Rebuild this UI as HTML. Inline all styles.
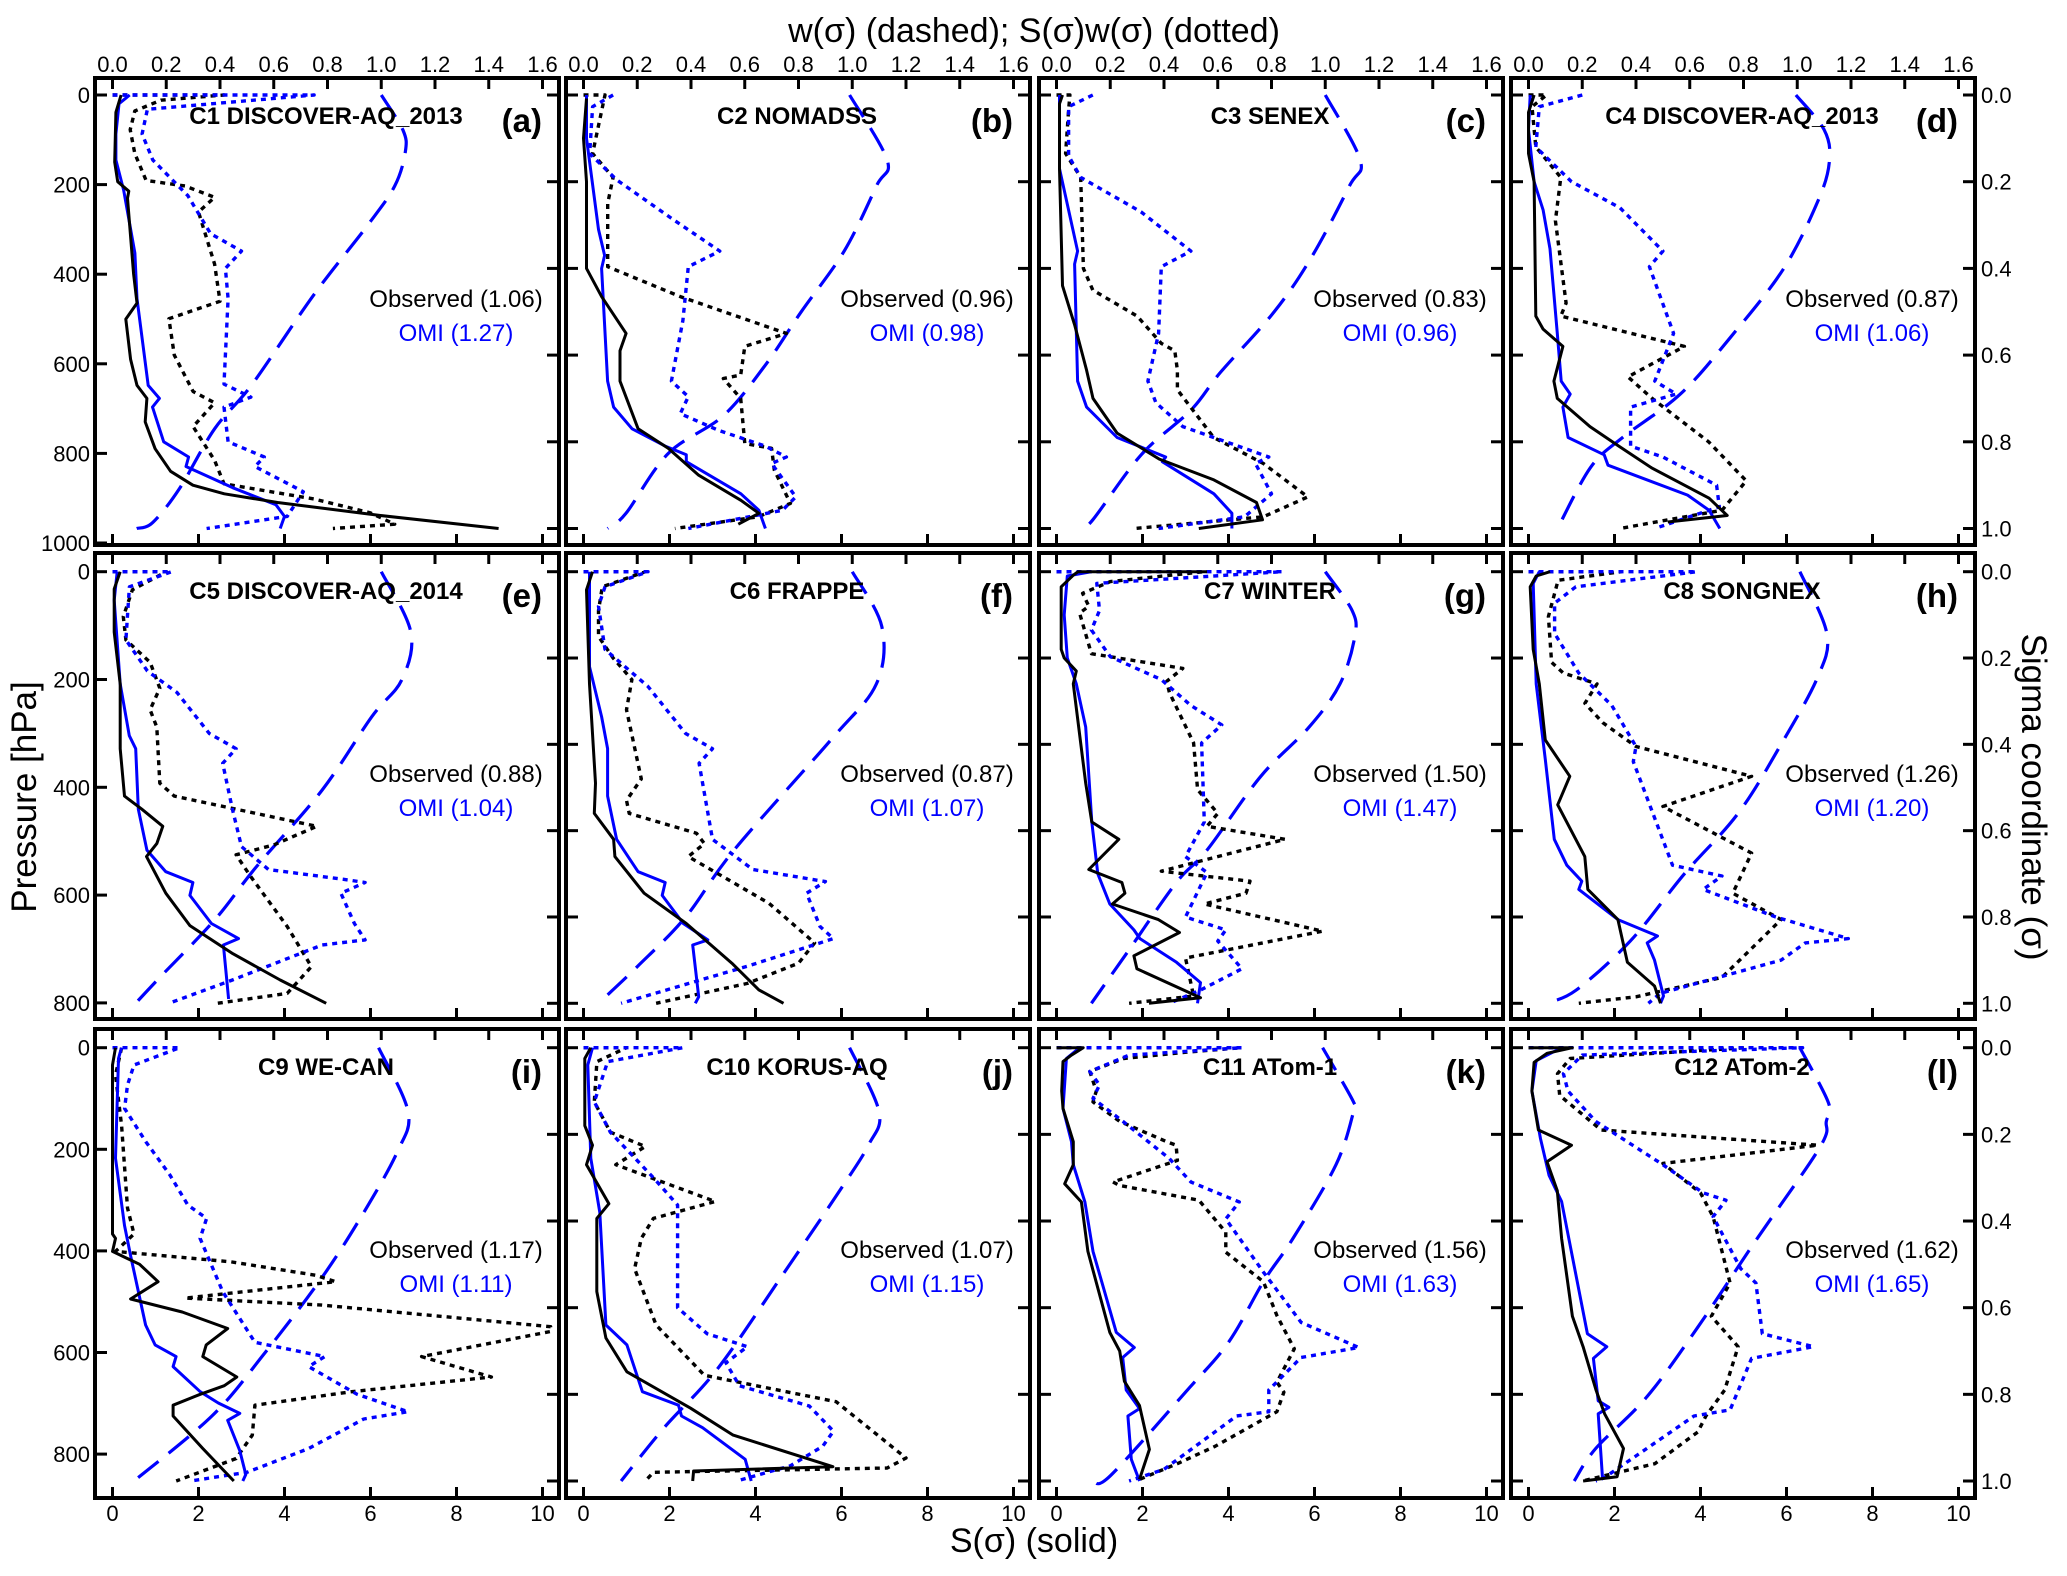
<!DOCTYPE html>
<html><head><meta charset="utf-8"><title>S(σ) and w(σ) profiles</title>
<style>
html,body{margin:0;padding:0;background:#fff;}
svg{display:block;font-family:"Liberation Sans",Arial,sans-serif;}
</style></head>
<body>
<svg id="chart" width="2067" height="1576" viewBox="0 0 2067 1576" xmlns="http://www.w3.org/2000/svg">
<rect x="0" y="0" width="2067" height="1576" fill="#fff"/>
<text x="1034" y="42" text-anchor="middle" font-size="34">w(σ) (dashed); S(σ)w(σ) (dotted)</text>
<text x="1034" y="1552" text-anchor="middle" font-size="34">S(σ) (solid)</text>
<text transform="translate(36,797) rotate(-90)" text-anchor="middle" font-size="35">Pressure [hPa]</text>
<text transform="translate(2022,797) rotate(90)" text-anchor="middle" font-size="35">Sigma coordinate (σ)</text>
<g id="plots"></g>
</svg>
<script>
// ---- data: [sigma, value]; S in bottom-axis units, w / Sw in top-axis units ----
const panelKeys = ['a','b','c','d','e','f','g','h','i','j','k','l'];
const panelTitles = ['C1 DISCOVER-AQ_2013','C2 NOMADSS','C3 SENEX','C4 DISCOVER-AQ_2013','C5 DISCOVER-AQ_2014','C6 FRAPPE','C7 WINTER','C8 SONGNEX','C9 WE-CAN','C10 KORUS-AQ','C11 ATom-1','C12 ATom-2'];
const obsAmf = ['1.06','0.96','0.83','0.87','0.88','0.87','1.50','1.26','1.17','1.07','1.56','1.62'];
const omiAmf = ['1.27','0.98','0.96','1.06','1.04','1.07','1.47','1.20','1.11','1.15','1.63','1.65'];
const wTicks = [0.0,0.2,0.4,0.6,0.8,1.0,1.2,1.4,1.6];
const sTicks = [0,2,4,6,8,10];
const sigmaTicks = [0.0,0.2,0.4,0.6,0.8,1.0];
const pTicksRow1 = [0,200,400,600,800,1000];
const pTicksRow23 = [0,200,400,600,800];

const obsS_a = [[0,0.2],[0.04,0.08],[0.155,0.05],[0.2,0.12],[0.222,0.38],[0.238,0.35],[0.413,0.49],[0.48,0.57],[0.517,0.31],[0.61,0.42],[0.67,0.57],[0.70,0.8],[0.754,0.76],[0.816,0.99],[0.868,1.35],[0.9,1.87],[0.92,2.6],[0.94,3.84],[0.97,6.23],[1.0,8.98]];
const omiS_a = [[0,0.4],[0.02,0.15],[0.09,0.08],[0.15,0.08],[0.22,0.26],[0.365,0.52],[0.47,0.57],[0.67,0.83],[0.70,1.09],[0.72,0.93],[0.80,1.19],[0.835,1.77],[0.857,1.71],[0.906,2.8],[0.945,3.8],[0.972,4.0],[1.0,3.9]];
const obsW_a = [[0,0],[0,0.415],[0.012,0.18],[0.037,0.083],[0.08,0.066],[0.135,0.083],[0.197,0.125],[0.21,0.27],[0.236,0.38],[0.27,0.32],[0.39,0.38],[0.476,0.40],[0.516,0.21],[0.60,0.23],[0.684,0.30],[0.71,0.38],[0.765,0.30],[0.843,0.38],[0.897,0.415],[0.932,0.75],[0.964,0.96],[0.99,1.05],[1.0,0.82]];
const omiW_a = [[0,0],[0,0.75],[0.033,0.13],[0.09,0.11],[0.15,0.15],[0.232,0.28],[0.32,0.365],[0.36,0.48],[0.40,0.42],[0.47,0.43],[0.667,0.415],[0.697,0.515],[0.72,0.415],[0.80,0.43],[0.835,0.565],[0.857,0.53],[0.915,0.71],[0.972,0.65],[1.0,0.35]];
const wfun_a = [[0,1.0],[0.08,1.08],[0.13,1.09],[0.21,1.05],[0.30,0.95],[0.46,0.75],[0.667,0.52],[0.77,0.38],[0.907,0.25],[0.986,0.15],[1.0,0.09]];

const obsS_b = [[0.008,0.07],[0.1,0],[0.2,0.07],[0.4,0.07],[0.465,0.42],[0.55,0.99],[0.59,0.85],[0.66,0.85],[0.77,1.27],[0.815,1.97],[0.877,2.68],[0.935,3.66],[0.965,4.08],[0.99,3.6]];
const omiS_b = [[0,0.07],[0.1,0.07],[0.31,0.35],[0.37,0.49],[0.4,0.42],[0.66,0.56],[0.72,0.7],[0.77,1.13],[0.81,1.9],[0.83,2.39],[0.846,2.39],[0.92,3.66],[0.958,4.08],[1.0,4.23]];
const obsW_b = [[0,0],[0,0.08],[0.135,0.034],[0.19,0.11],[0.25,0.09],[0.396,0.09],[0.465,0.36],[0.55,0.755],[0.58,0.6],[0.646,0.585],[0.654,0.52],[0.7,0.585],[0.804,0.6],[0.815,0.7],[0.865,0.71],[0.942,0.77],[0.973,0.65],[1.0,0.34]];
const omiW_b = [[0,0.11],[0.027,0.034],[0.135,0.023],[0.196,0.124],[0.29,0.34],[0.36,0.507],[0.396,0.39],[0.52,0.37],[0.66,0.327],[0.696,0.39],[0.735,0.36],[0.773,0.5],[0.81,0.676],[0.835,0.755],[0.85,0.7],[0.927,0.79],[0.958,0.74],[1.0,0.39]];
const wfun_b = [[0,0.99],[0.15,1.13],[0.21,1.09],[0.36,0.97],[0.5,0.81],[0.62,0.68],[0.74,0.52],[0.827,0.315],[0.965,0.158],[1.0,0.09]];

const obsS_c = [[0,0.14],[0.02,0.07],[0.17,0.07],[0.44,0.14],[0.53,0.42],[0.635,0.7],[0.70,0.85],[0.78,1.41],[0.84,2.39],[0.888,3.66],[0.94,4.65],[0.98,4.79],[1.0,3.31]];
const omiS_c = [[0,0.07],[0.17,0.07],[0.36,0.49],[0.39,0.42],[0.66,0.49],[0.72,0.7],[0.79,1.41],[0.835,2.54],[0.846,2.46],[0.92,3.66],[0.965,4.08],[1.0,4.08]];
const obsW_c = [[0,0],[0,0.05],[0.035,0.045],[0.135,0.034],[0.19,0.09],[0.4,0.1],[0.45,0.135],[0.51,0.30],[0.573,0.39],[0.59,0.44],[0.635,0.45],[0.68,0.45],[0.79,0.585],[0.85,0.77],[0.927,0.935],[0.973,0.77],[1.0,0.29]];
const omiW_c = [[0,0.135],[0.027,0.045],[0.14,0.045],[0.19,0.09],[0.27,0.315],[0.36,0.5],[0.396,0.39],[0.55,0.38],[0.66,0.34],[0.71,0.37],[0.765,0.47],[0.81,0.676],[0.835,0.79],[0.85,0.74],[0.92,0.8],[0.973,0.7],[1.0,0.38]];
const wfun_c = [[0,1.0],[0.15,1.13],[0.21,1.09],[0.373,0.95],[0.5,0.81],[0.64,0.61],[0.727,0.5],[0.83,0.315],[0.98,0.135],[1.0,0.09]];

const obsS_d = [[0,0.13],[0.04,0],[0.135,0],[0.2,0.13],[0.51,0.17],[0.54,0.34],[0.58,0.8],[0.66,0.59],[0.7,0.67],[0.765,1.43],[0.81,2.1],[0.86,2.86],[0.93,4.2],[0.97,4.62],[0.985,3.24]];
const omiS_d = [[0,0.04],[0.08,0],[0.2,0.13],[0.265,0.34],[0.355,0.5],[0.55,0.67],[0.66,0.76],[0.69,0.97],[0.72,0.8],[0.79,0.92],[0.83,1.76],[0.854,1.85],[0.923,3.7],[0.958,4.2],[1.0,4.45]];
const obsW_d = [[0,0],[0,0.067],[0.027,0.013],[0.12,0.027],[0.19,0.12],[0.29,0.10],[0.48,0.14],[0.51,0.12],[0.58,0.58],[0.65,0.37],[0.70,0.46],[0.80,0.67],[0.89,0.81],[0.958,0.72],[0.98,0.52],[1.0,0.34]];
const omiW_d = [[0,0.2],[0.027,0.04],[0.12,0.027],[0.2,0.16],[0.26,0.34],[0.36,0.5],[0.396,0.45],[0.55,0.54],[0.66,0.47],[0.69,0.55],[0.72,0.38],[0.81,0.38],[0.835,0.5],[0.90,0.7],[0.95,0.71],[1.0,0.47]];
const wfun_d = [[0,0.995],[0.08,1.1],[0.15,1.12],[0.24,1.08],[0.40,0.95],[0.56,0.75],[0.69,0.565],[0.79,0.35],[0.86,0.23],[1.0,0.108]];

const obsS_e = [[0,0.18],[0.04,0.04],[0.14,0.04],[0.26,0.18],[0.41,0.18],[0.52,0.28],[0.55,0.68],[0.59,1.17],[0.63,1.03],[0.66,0.79],[0.745,1.24],[0.82,1.8],[0.885,2.8],[0.946,3.9],[1.0,4.97]];
const omiS_e = [[0,0.11],[0.066,0.04],[0.26,0.18],[0.38,0.39],[0.41,0.54],[0.55,0.6],[0.645,0.8],[0.695,1.24],[0.72,1.87],[0.75,1.8],[0.815,2.3],[0.85,2.93],[0.865,2.58],[0.99,2.7]];
const obsW_e = [[0,0],[0,0.2],[0.042,0.074],[0.104,0.04],[0.158,0.05],[0.21,0.14],[0.27,0.176],[0.32,0.14],[0.36,0.165],[0.49,0.176],[0.52,0.23],[0.59,0.76],[0.633,0.6],[0.656,0.46],[0.707,0.515],[0.822,0.65],[0.915,0.74],[0.977,0.65],[1.0,0.39]];
const omiW_e = [[0,0],[0,0.22],[0.035,0.063],[0.158,0.05],[0.23,0.13],[0.28,0.24],[0.375,0.36],[0.41,0.46],[0.444,0.41],[0.55,0.446],[0.637,0.48],[0.69,0.58],[0.714,0.875],[0.72,0.94],[0.745,0.85],[0.815,0.9],[0.853,0.94],[0.865,0.78],[0.946,0.446],[1.0,0.21]];
const wfun_e = [[0,1.0],[0.14,1.11],[0.25,1.077],[0.336,0.965],[0.506,0.78],[0.683,0.536],[0.807,0.38],[0.94,0.176],[1.0,0.086]];

const obsS_f = [[0,0.21],[0.042,0.07],[0.26,0.14],[0.49,0.28],[0.56,0.25],[0.62,0.7],[0.66,0.73],[0.745,1.41],[0.815,2.39],[0.907,3.45],[0.969,4.08],[1.0,4.65]];
const omiS_f = [[0,0.14],[0.22,0.14],[0.336,0.42],[0.41,0.56],[0.52,0.56],[0.62,0.77],[0.695,1.27],[0.72,1.9],[0.75,1.83],[0.815,2.32],[0.853,2.89],[0.865,2.54],[0.985,2.68],[1.0,2.6]];
const obsW_f = [[0,0],[0,0.23],[0.035,0.07],[0.09,0.056],[0.15,0.056],[0.2,0.11],[0.25,0.18],[0.32,0.16],[0.48,0.215],[0.53,0.16],[0.56,0.17],[0.606,0.42],[0.63,0.45],[0.66,0.39],[0.714,0.54],[0.768,0.69],[0.86,0.86],[0.907,0.8],[0.954,0.61],[1.0,0.27]];
const omiW_f = [[0,0],[0,0.24],[0.035,0.08],[0.08,0.056],[0.18,0.08],[0.266,0.24],[0.375,0.38],[0.41,0.48],[0.444,0.43],[0.62,0.48],[0.69,0.63],[0.718,0.9],[0.745,0.83],[0.822,0.88],[0.85,0.93],[0.914,0.61],[1.0,0.14]];
const wfun_f = [[0,1.0],[0.127,1.11],[0.26,1.09],[0.39,0.92],[0.645,0.56],[0.8,0.38],[0.915,0.2],[1.0,0.056]];

const obsS_g = [[0,3.5],[0,0.5],[0.008,0.39],[0.035,0.11],[0.18,0.11],[0.2,0.18],[0.23,0.46],[0.26,0.39],[0.49,0.68],[0.58,0.82],[0.62,1.45],[0.69,0.75],[0.72,1.52],[0.745,1.59],[0.77,1.3],[0.806,2.37],[0.836,2.86],[0.89,1.8],[0.92,1.87],[0.987,3.35],[1.0,2.15]];
const omiS_g = [[0,0.82],[0.01,0.25],[0.1,0.18],[0.2,0.25],[0.26,0.46],[0.36,0.68],[0.58,0.82],[0.7,0.96],[0.77,1.24],[0.83,1.8],[0.85,1.94],[0.905,2.79],[0.952,3.35],[1.0,3.28]];
const obsW_g = [[0,0],[0,0.55],[0.023,0.2],[0.05,0.097],[0.08,0.12],[0.096,0.086],[0.19,0.13],[0.224,0.47],[0.254,0.41],[0.28,0.42],[0.397,0.51],[0.505,0.525],[0.56,0.6],[0.59,0.56],[0.62,0.85],[0.694,0.39],[0.717,0.72],[0.745,0.705],[0.77,0.55],[0.833,0.99],[0.895,0.48],[0.983,0.51],[1.0,0.27]];
const omiW_g = [[0,0],[0,0.84],[0.027,0.15],[0.09,0.16],[0.135,0.13],[0.197,0.2],[0.25,0.39],[0.31,0.5],[0.355,0.615],[0.397,0.54],[0.58,0.55],[0.66,0.48],[0.697,0.56],[0.8,0.48],[0.83,0.63],[0.856,0.6],[0.92,0.69],[0.968,0.54],[1.0,0.42]];
const wfun_g = [[0,1.0],[0.09,1.1],[0.15,1.11],[0.26,1.055],[0.36,0.94],[0.474,0.76],[0.645,0.56],[0.72,0.446],[0.876,0.27],[1.0,0.13]];

const obsS_h = [[0,0.5],[0.01,0.18],[0.035,0.04],[0.18,0.11],[0.26,0.25],[0.39,0.39],[0.474,0.96],[0.54,0.68],[0.66,1.31],[0.736,1.38],[0.806,2.08],[0.905,2.3],[0.96,2.93],[1.0,3.07]];
const omiS_h = [[0,0.25],[0.027,0.11],[0.26,0.18],[0.435,0.39],[0.62,0.6],[0.68,0.89],[0.717,1.24],[0.736,1.17],[0.806,2.08],[0.844,3.0],[0.86,2.76],[0.9,2.93],[0.983,3.14],[1.0,3.07]];
const obsW_h = [[0,0],[0,0.345],[0.02,0.11],[0.104,0.074],[0.21,0.086],[0.235,0.13],[0.26,0.255],[0.305,0.21],[0.35,0.277],[0.405,0.4],[0.474,0.83],[0.544,0.5],[0.652,0.83],[0.745,0.76],[0.806,0.94],[0.94,0.72],[0.985,0.4],[1.0,0.187]];
const omiW_h = [[0,0],[0,0.626],[0.035,0.176],[0.073,0.097],[0.143,0.097],[0.235,0.187],[0.31,0.31],[0.405,0.4],[0.44,0.39],[0.68,0.536],[0.705,0.72],[0.736,0.65],[0.8,0.92],[0.85,1.19],[0.86,1.03],[0.9,0.94],[0.977,0.49],[1.0,0.446]];
const wfun_h = [[0,1.01],[0.143,1.11],[0.243,1.077],[0.4,0.94],[0.56,0.78],[0.7,0.58],[0.855,0.38],[0.97,0.176],[1.0,0.063]];

const obsS_i = [[0,0.07],[0.04,0],[0.43,0],[0.44,0.07],[0.47,0],[0.5,0.63],[0.54,1.06],[0.58,0.42],[0.61,1.62],[0.648,2.68],[0.686,2.18],[0.713,2.1],[0.76,2.89],[0.78,2.6],[0.8,2.04],[0.825,1.41],[0.85,1.41],[0.925,2.1],[1.0,2.82]];
const omiS_i = [[0,0.21],[0.025,0.14],[0.255,0.07],[0.41,0.28],[0.48,0.42],[0.64,0.77],[0.686,0.99],[0.713,1.48],[0.736,1.41],[0.794,2.04],[0.82,2.46],[0.844,2.96],[0.86,2.68],[0.93,2.96],[0.985,3.1],[1.0,3.03]];
const obsW_i = [[0,0.034],[0.063,0.011],[0.18,0.034],[0.37,0.056],[0.43,0.08],[0.47,0.011],[0.494,0.44],[0.525,0.755],[0.54,0.83],[0.578,0.27],[0.594,0.78],[0.644,1.63],[0.655,1.63],[0.713,1.15],[0.76,1.41],[0.794,0.89],[0.825,0.53],[0.894,0.52],[0.948,0.46],[1.0,0.237]];
const omiW_i = [[0,0],[0,0.25],[0.04,0.08],[0.086,0.056],[0.14,0.045],[0.217,0.124],[0.294,0.214],[0.363,0.28],[0.394,0.35],[0.44,0.326],[0.563,0.41],[0.68,0.53],[0.713,0.79],[0.736,0.73],[0.8,0.91],[0.84,1.1],[0.857,0.935],[0.925,0.73],[0.98,0.5],[1.0,0.29]];
const wfun_i = [[0,0.99],[0.148,1.1],[0.24,1.06],[0.38,0.935],[0.53,0.78],[0.71,0.56],[0.85,0.37],[1.0,0.08]];

const obsS_j = [[0,0.17],[0.025,0.03],[0.18,0.03],[0.225,0.21],[0.27,0.07],[0.36,0.59],[0.394,0.31],[0.563,0.31],[0.67,0.52],[0.748,1.01],[0.832,2.49],[0.894,3.48],[0.967,5.8],[0.977,2.56],[1.0,2.54]];
const omiS_j = [[0,0.21],[0.04,0.1],[0.255,0.17],[0.38,0.38],[0.64,0.52],[0.686,1.01],[0.794,1.37],[0.825,2.21],[0.85,2.28],[0.877,2.77],[0.95,3.76],[1.0,3.9]];
const obsW_j = [[0,0],[0,0.16],[0.032,0.05],[0.125,0.04],[0.195,0.1],[0.228,0.23],[0.27,0.12],[0.355,0.49],[0.394,0.26],[0.44,0.215],[0.51,0.19],[0.64,0.27],[0.756,0.45],[0.817,0.94],[0.947,1.2],[0.97,1.13],[0.973,0.87],[0.98,0.26],[1.0,0.23]];
const omiW_j = [[0,0],[0,0.37],[0.032,0.09],[0.125,0.04],[0.195,0.1],[0.3,0.26],[0.363,0.35],[0.6,0.35],[0.66,0.46],[0.69,0.61],[0.727,0.53],[0.78,0.58],[0.827,0.84],[0.885,0.93],[0.92,0.89],[0.965,0.77],[1.0,0.57]];
const wfun_j = [[0,0.99],[0.148,1.1],[0.225,1.06],[0.333,0.95],[0.525,0.74],[0.74,0.5],[0.877,0.3],[1.0,0.14]];

const obsS_k = [[0,0],[0,0.62],[0.017,0.35],[0.032,0.15],[0.1,0.12],[0.14,0.15],[0.217,0.39],[0.27,0.39],[0.314,0.19],[0.356,0.58],[0.47,0.73],[0.657,1.24],[0.7,1.47],[0.77,1.58],[0.826,1.93],[0.927,2.16],[0.996,1.93]];
const omiS_k = [[0,0.54],[0.025,0.23],[0.14,0.15],[0.217,0.35],[0.27,0.39],[0.356,0.66],[0.47,0.85],[0.657,1.39],[0.692,1.81],[0.715,1.54],[0.79,1.62],[0.833,1.93],[0.85,1.66],[0.95,1.74],[1.0,1.93]];
const obsW_k = [[0,0],[0,0.69],[0.01,0.49],[0.025,0.25],[0.055,0.124],[0.1,0.148],[0.125,0.136],[0.17,0.235],[0.217,0.41],[0.225,0.445],[0.26,0.45],[0.31,0.21],[0.318,0.235],[0.352,0.53],[0.426,0.63],[0.472,0.63],[0.54,0.77],[0.618,0.82],[0.695,0.885],[0.772,0.82],[0.795,0.846],[0.84,0.82],[0.92,0.59],[0.958,0.457],[0.996,0.31]];
const omiW_k = [[0,0],[0,0.69],[0.017,0.27],[0.055,0.124],[0.086,0.16],[0.117,0.136],[0.17,0.247],[0.256,0.42],[0.31,0.5],[0.356,0.68],[0.395,0.63],[0.518,0.77],[0.634,0.91],[0.692,1.125],[0.715,0.91],[0.79,0.79],[0.84,0.79],[0.85,0.67],[0.973,0.4],[1.0,0.27]];
const wfun_k = [[0,0.99],[0.125,1.105],[0.148,1.105],[0.27,1.04],[0.44,0.88],[0.54,0.77],[0.68,0.64],[0.795,0.48],[0.988,0.2],[1.0,0.136]];

const obsS_l = [[0,0],[0,1.02],[0.013,0.43],[0.034,0.13],[0.1,0.08],[0.19,0.23],[0.225,1.0],[0.263,0.43],[0.33,0.67],[0.44,0.77],[0.62,1.02],[0.69,1.27],[0.79,1.57],[0.845,1.77],[0.925,2.21],[0.99,2.06],[1.0,1.27]];
const omiS_l = [[0,0.77],[0.03,0.18],[0.1,0.08],[0.21,0.28],[0.295,0.48],[0.355,0.77],[0.66,1.37],[0.69,1.82],[0.717,1.51],[0.815,1.62],[0.83,1.87],[0.845,1.62],[0.993,1.72]];
const obsW_l = [[0,0],[0,0.81],[0.025,0.155],[0.06,0.108],[0.11,0.116],[0.19,0.27],[0.225,1.076],[0.267,0.5],[0.335,0.64],[0.39,0.687],[0.543,0.75],[0.62,0.68],[0.69,0.78],[0.79,0.73],[0.85,0.66],[0.887,0.63],[0.96,0.47],[1.0,0.2]];
const omiW_l = [[0,0],[0,1.02],[0.017,0.2],[0.06,0.13],[0.1,0.147],[0.17,0.25],[0.27,0.5],[0.335,0.65],[0.352,0.735],[0.39,0.687],[0.51,0.79],[0.543,0.846],[0.66,0.87],[0.69,1.06],[0.717,0.83],[0.836,0.75],[0.85,0.616],[0.925,0.44],[0.993,0.28],[1.0,0.25]];
const wfun_l = [[0,1.01],[0.127,1.116],[0.17,1.108],[0.23,1.084],[0.45,0.84],[0.645,0.63],[0.806,0.44],[0.925,0.25],[1.0,0.17]];

const obsSList = [obsS_a,obsS_b,obsS_c,obsS_d,obsS_e,obsS_f,obsS_g,obsS_h,obsS_i,obsS_j,obsS_k,obsS_l];
const omiSList = [omiS_a,omiS_b,omiS_c,omiS_d,omiS_e,omiS_f,omiS_g,omiS_h,omiS_i,omiS_j,omiS_k,omiS_l];
const obsWList = [obsW_a,obsW_b,obsW_c,obsW_d,obsW_e,obsW_f,obsW_g,obsW_h,obsW_i,obsW_j,obsW_k,obsW_l];
const omiWList = [omiW_a,omiW_b,omiW_c,omiW_d,omiW_e,omiW_f,omiW_g,omiW_h,omiW_i,omiW_j,omiW_k,omiW_l];
const wfunList = [wfun_a,wfun_b,wfun_c,wfun_d,wfun_e,wfun_f,wfun_g,wfun_h,wfun_i,wfun_j,wfun_k,wfun_l];

// ---- layout ----
const NS = 'http://www.w3.org/2000/svg';
const root = document.getElementById('plots');
const colLeft = [95, 566, 1039, 1511];
const PW = 464;
const rowsGeo = [
  {top:78, bot:545, s0:95, s1:528.5, pk:0.448, pt:pTicksRow1},
  {top:553, bot:1019, s0:571.7, s1:1003.3, pk:0.539, pt:pTicksRow23},
  {top:1029, bot:1498, s0:1047.7, s1:1481, pk:0.508, pt:pTicksRow23}
];
function xS(left, v){ return left + 17.5 + v / 10 * 430; }
function xW(left, v){ return left + 17.5 + v / 1.6 * 430; }
function yS(r, s){ return r.s0 + s * (r.s1 - r.s0); }
function mk(tag, attrs, parent){
  const el = document.createElementNS(NS, tag);
  for (const k in attrs) el.setAttribute(k, attrs[k]);
  (parent || root).appendChild(el);
  return el;
}
function fmt1(v){ return v.toFixed(1); }
function smoothPath(p){
  let d = 'M' + p[0][0].toFixed(1) + ',' + p[0][1].toFixed(1);
  for (let i = 0; i < p.length - 1; i++){
    const p0 = p[i > 0 ? i - 1 : i], p1 = p[i], p2 = p[i + 1], p3 = p[i + 2 < p.length ? i + 2 : i + 1];
    const c1x = p1[0] + (p2[0] - p0[0]) / 6, c1y = p1[1] + (p2[1] - p0[1]) / 6;
    const c2x = p2[0] - (p3[0] - p1[0]) / 6, c2y = p2[1] - (p3[1] - p1[1]) / 6;
    d += ' C' + c1x.toFixed(1) + ',' + c1y.toFixed(1) + ' ' + c2x.toFixed(1) + ',' + c2y.toFixed(1) + ' ' + p2[0].toFixed(1) + ',' + p2[1].toFixed(1);
  }
  return d;
}

const defs = mk('defs', {});
panelKeys.forEach(function(key, i){
  const col = i % 4, row = Math.floor(i / 4);
  const r = rowsGeo[row], L = colLeft[col], R = L + PW;
  const cp = mk('clipPath', {id:'clip-' + key}, defs);
  mk('rect', {x:L, y:r.top, width:PW, height:r.bot - r.top}, cp);

  const g = mk('g', {});
  
  

  const tk = mk('g', {stroke:'#000', 'stroke-width':3}, g);
  
  
  wTicks.forEach(function(t){ const x = xW(L, t); mk('line', {x1:x, x2:x, y1:r.top, y2:r.top + 11}, tk); });
  sTicks.forEach(function(t){ const x = xS(L, t); mk('line', {x1:x, x2:x, y1:r.bot, y2:r.bot - 11}, tk); });
  if (col === 0) {
    r.pt.forEach(function(p){ const y = r.s0 + p * r.pk; mk('line', {x1:L, x2:L + 12, y1:y, y2:y}, tk); });
  } else {
    sigmaTicks.forEach(function(s){ const y = yS(r, s); mk('line', {x1:L, x2:L + 12, y1:y, y2:y}, tk); });
  }
  sigmaTicks.forEach(function(s){ const y = yS(r, s); mk('line', {x1:R, x2:R - 12, y1:y, y2:y}, tk); });

  const cg = mk('g', {'clip-path':'url(#clip-' + key + ')', fill:'none', 'stroke-linejoin':'round'}, g);
  function line(data, xf, color, dash, width, name){
    const pts = data.map(function(d){ return xf(L, d[1]).toFixed(1) + ',' + yS(r, d[0]).toFixed(1); }).join(' ');
    const pl = mk('polyline', {points:pts, stroke:color, 'stroke-width':width}, cg);
    if (dash) pl.setAttribute('stroke-dasharray', dash);
    
    
  }
  const wp = wfunList[i].map(function(d){ return [xW(L, d[1]), yS(r, d[0])]; });
  const wpath = mk('path', {d:smoothPath(wp), stroke:'#0000ff', 'stroke-width':3.2, 'stroke-dasharray':'26 13'}, cg);
  
  
  line(obsWList[i], xW, '#000', '5 5', 3.4, 'sw-observed-dotted-' + key);
  line(omiWList[i], xW, '#0000ff', '5 5', 3.4, 'sw-omi-dotted-' + key);
  line(omiSList[i], xS, '#0000ff', null, 3, 's-omi-solid-' + key);
  line(obsSList[i], xS, '#000', null, 3, 's-observed-solid-' + key);

  const fr = mk('rect', {x:L, y:r.top, width:PW, height:r.bot - r.top, fill:'none', stroke:'#000', 'stroke-width':4}, g);
  
  

  const t1 = mk('text', {x:L + 231, y:r.top + 46, 'text-anchor':'middle', 'font-size':24, 'font-weight':'bold'}, g);
  t1.textContent = panelTitles[i];
  
  
  const t2 = mk('text', {x:L + 447, y:r.top + 54, 'text-anchor':'end', 'font-size':33, 'font-weight':'bold'}, g);
  t2.textContent = '(' + key + ')';
  
  
  const t3 = mk('text', {x:L + 361, y:r.top + 229, 'text-anchor':'middle', 'font-size':24}, g);
  t3.textContent = 'Observed (' + obsAmf[i] + ')';
  
  
  const t4 = mk('text', {x:L + 361, y:r.top + 263, 'text-anchor':'middle', 'font-size':24, fill:'#0000ff'}, g);
  t4.textContent = 'OMI (' + omiAmf[i] + ')';
  
  

  if (row === 0) {
    wTicks.forEach(function(t){
      const tl = mk('text', {x:xW(L, t), y:72, 'text-anchor':'middle', 'font-size':22}, g);
      tl.textContent = fmt1(t);
      
      
    });
  }
  if (row === 2) {
    sTicks.forEach(function(t){
      const tl = mk('text', {x:xS(L, t), y:1521, 'text-anchor':'middle', 'font-size':22}, g);
      tl.textContent = String(t);
      
      
    });
  }
  if (col === 0) {
    r.pt.forEach(function(p){
      const tl = mk('text', {x:90, y:r.s0 + p * r.pk + 8, 'text-anchor':'end', 'font-size':22}, g);
      tl.textContent = String(p);
      
      
    });
  }
  if (col === 3) {
    sigmaTicks.forEach(function(s){
      const tl = mk('text', {x:1981, y:yS(r, s) + 8, 'text-anchor':'start', 'font-size':22}, g);
      tl.textContent = fmt1(s);
      
      
    });
  }
});
</script>
</body></html>
